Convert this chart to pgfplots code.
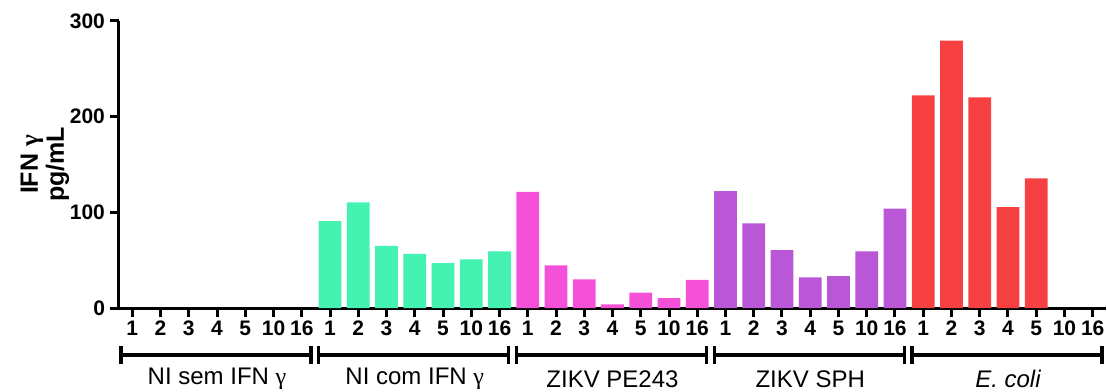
\documentclass[border=0pt]{standalone}
\usepackage{fontspec}
\setmainfont{Liberation Sans}
\newfontfamily\symfont{Liberation Serif}
\usepackage{pgfplots}
\pgfplotsset{compat=1.18}
\definecolor{cgreen}{RGB}{68,242,178}
\definecolor{cpink}{RGB}{245,80,216}
\definecolor{cpurple}{RGB}{185,87,215}
\definecolor{cred}{RGB}{246,64,66}
\newcommand{\grp}[4]{%
  \draw[line width=1.8pt] ([yshift=-23.5pt]axis cs:#1,0) -- ([yshift=-23.5pt]axis cs:#2,0);
  \draw[line width=1.6pt] ([yshift=-19pt]axis cs:#1,0) -- ([yshift=-28pt]axis cs:#1,0);
  \draw[line width=1.6pt] ([yshift=-19pt]axis cs:#2,0) -- ([yshift=-28pt]axis cs:#2,0);
  \node[font=\fontsize{12}{13}\selectfont] at ([yshift=-35.5pt]axis cs:#3,0) {#4};
}
\begin{document}
\begin{tikzpicture}
\useasboundingbox (-59.5pt,-41.5pt) rectangle (494pt,154pt);
\begin{axis}[
  scale only axis,
  width=493.5pt, height=143.5pt,
  xmin=-0.47, xmax=34.47,
  ymin=0, ymax=300,
  axis x line*=bottom, axis y line*=left,
  axis line style={line width=1.5pt},
  tick align=outside,
  major tick length=4.5pt,
  every tick/.style={black, line width=1.5pt},
  ytick={0,100,200,300},
  yticklabels={0,100,200,300},
  xtick={0,...,34},
  xticklabels={1,2,3,4,5,10,16,1,2,3,4,5,10,16,1,2,3,4,5,10,16,1,2,3,4,5,10,16,1,2,3,4,5,10,16},
  ticklabel style={font=\fontsize{10.5}{12}\selectfont\bfseries},
  xticklabel style={yshift=1.5pt},
  yticklabel style={xshift=1pt},
  ylabel={IFN {\symfont\bfseries γ}\\pg/mL},
  ylabel style={at={(axis description cs:-0.075,0.5)}, anchor=center, align=center, font=\fontsize{12.5}{13}\selectfont\bfseries},
  ybar, bar width=0.8,
  clip=false,
]
\addplot[fill=none, draw=none, bar shift=0pt] coordinates {(0,0) (1,0) (2,0) (3,0) (4,0) (5,0) (6,0)};
\addplot[fill=cgreen, draw=none, bar shift=0pt] coordinates {(7,90.9) (8,110.4) (9,65) (10,56.7) (11,47) (12,50.9) (13,59.3)};
\addplot[fill=cpink, draw=none, bar shift=0pt] coordinates {(14,121.5) (15,44.6) (16,30) (17,3.8) (18,16) (19,10.4) (20,29.3)};
\addplot[fill=cpurple, draw=none, bar shift=0pt] coordinates {(21,122.3) (22,88.5) (23,60.6) (24,32) (25,33.4) (26,59.2) (27,103.8)};
\addplot[fill=cred, draw=none, bar shift=0pt] coordinates {(28,222.2) (29,279.4) (30,220.1) (31,105.5) (32,135.6)};

\grp{-0.4}{6.33}{3}{NI sem IFN {\symfont γ}}
\grp{6.6}{13.33}{10}{NI com IFN {\symfont γ}}
\grp{13.6}{20.33}{17}{ZIKV PE243}
\grp{20.6}{27.33}{24}{ZIKV SPH}
\grp{27.6}{34.33}{31}{\itshape E. coli}
\end{axis}
\end{tikzpicture}
\end{document}
